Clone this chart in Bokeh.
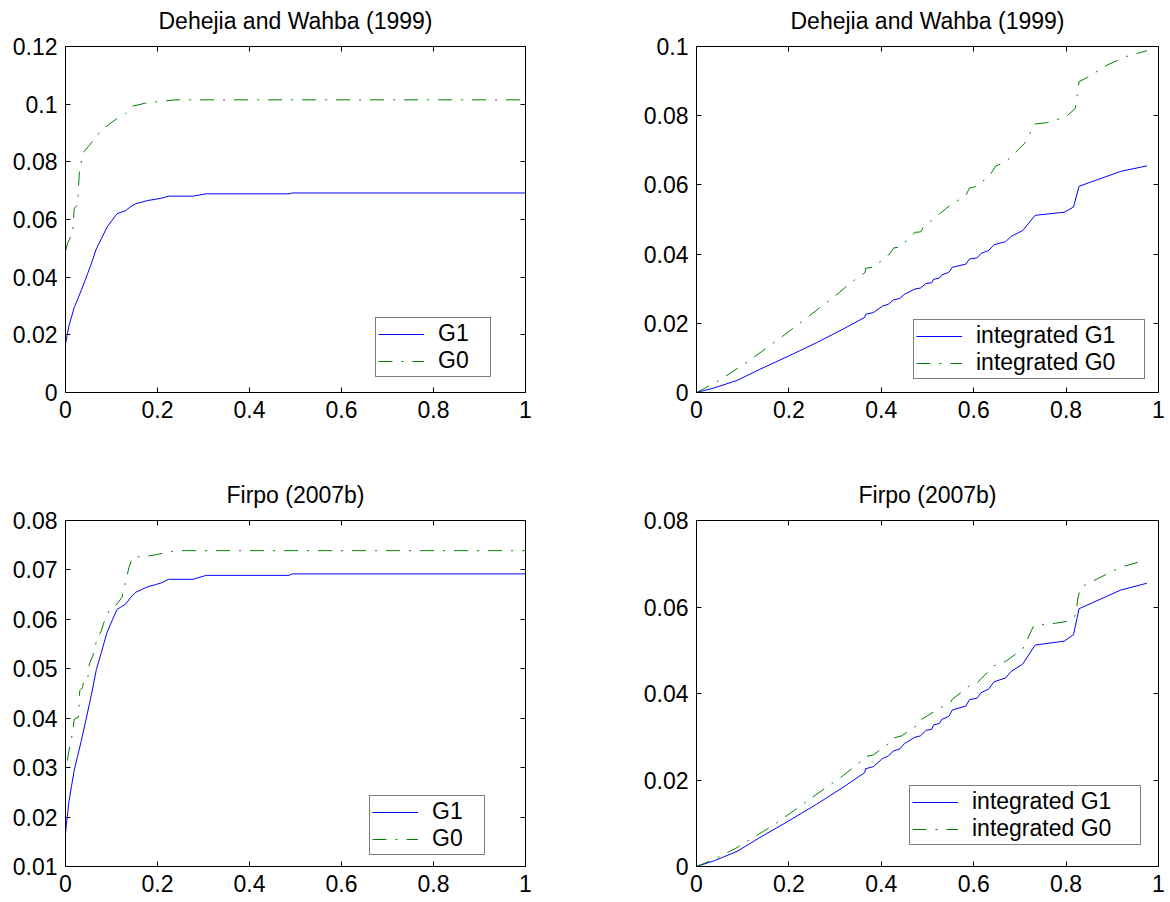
from bokeh.plotting import figure
from bokeh.models import Range1d, FixedTicker, LinearAxis, Legend, LegendItem
from bokeh.layouts import column, row
from bokeh.embed import file_html
from bokeh.resources import INLINE

FONT = "Liberation Sans"
FS = "23px"
BLUE = "#0000ff"
GREEN = "#008000"
DASHDOT = "14 9 2 9"

# ---------------- data ----------------
x_ticks = [0, 0.2, 0.4, 0.6, 0.8, 1]
x_tick_labels = ["0", "0.2", "0.4", "0.6", "0.8", "1"]

y_ticks_dw = [0, 0.02, 0.04, 0.06, 0.08, 0.1, 0.12]
y_labels_dw = ["0", "0.02", "0.04", "0.06", "0.08", "0.1", "0.12"]
y_ticks_dw_int = [0, 0.02, 0.04, 0.06, 0.08, 0.1]
y_labels_dw_int = ["0", "0.02", "0.04", "0.06", "0.08", "0.1"]
y_ticks_fi = [0.01, 0.02, 0.03, 0.04, 0.05, 0.06, 0.07, 0.08]
y_labels_fi = ["0.01", "0.02", "0.03", "0.04", "0.05", "0.06", "0.07", "0.08"]
y_ticks_fi_int = [0, 0.02, 0.04, 0.06, 0.08]
y_labels_fi_int = ["0", "0.02", "0.04", "0.06", "0.08"]

# G1 (treated) - same in both samples
g1_x = [0.0, 0.002, 0.0075, 0.013, 0.019, 0.026, 0.034, 0.045, 0.056, 0.067, 0.078,
        0.090, 0.101, 0.112, 0.122, 0.131, 0.142, 0.153, 0.165, 0.179, 0.195, 0.209,
        0.224, 0.277, 0.306, 0.486, 0.493, 1.0]
g1_y = [0.0167, 0.0185, 0.0231, 0.0262, 0.0295, 0.0322, 0.0353, 0.0399, 0.0446, 0.0498, 0.0533,
        0.0573, 0.0597, 0.0620, 0.0626, 0.0631, 0.0645, 0.0655, 0.0660, 0.0666, 0.0670, 0.0674,
        0.0681, 0.0681, 0.0689, 0.0689, 0.0692, 0.0692]

# G0, Dehejia and Wahba (1999)
g0_dw_x = [0.0, 0.0, 0.004, 0.011, 0.015, 0.017, 0.019, 0.023, 0.026, 0.030, 0.037, 0.049,
           0.064, 0.075, 0.097, 0.112, 0.131, 0.146, 0.172, 0.202, 0.239, 1.0]
g0_dw_y = [0.0376, 0.0488, 0.0515, 0.0540, 0.0544, 0.0592, 0.0640, 0.0645, 0.0649, 0.0759, 0.0829, 0.0852,
           0.0881, 0.0904, 0.0933, 0.0950, 0.0968, 0.0993, 0.1003, 0.1009, 0.1015, 0.1015]

# G0, Firpo (2007b)
g0_fi_x = [0.0, 0.0, 0.0075, 0.015, 0.019, 0.028, 0.031, 0.037, 0.041, 0.049, 0.052, 0.064,
           0.067, 0.078, 0.086, 0.097, 0.112, 0.123, 0.131, 0.138, 0.146, 0.172, 0.198, 0.239, 1.0]
g0_fi_y = [0.0246, 0.0294, 0.0334, 0.0368, 0.0398, 0.0402, 0.0456, 0.0462, 0.0483, 0.0484, 0.0510, 0.0537,
           0.0557, 0.0577, 0.0601, 0.0621, 0.0631, 0.0645, 0.0678, 0.0705, 0.0726, 0.0727, 0.0731, 0.0739, 0.0739]

# integrated G1 (same in both samples)
ig1_x = [0.0, 0.039, 0.088, 0.137, 0.199, 0.260, 0.317, 0.364, 0.366, 0.383, 0.403, 0.415, 0.426,
         0.440, 0.450, 0.473, 0.485, 0.497, 0.509, 0.513, 0.526, 0.531, 0.546, 0.554, 0.583, 0.591,
         0.607, 0.616, 0.632, 0.644, 0.669, 0.681, 0.706, 0.733, 0.796, 0.816, 0.828, 0.918, 0.975]
ig1_y = [0.0, 0.00135, 0.0035, 0.0067, 0.0105, 0.0144, 0.0183, 0.0217, 0.0226, 0.0231, 0.0250, 0.0255, 0.0267,
         0.0272, 0.0284, 0.0299, 0.0302, 0.0315, 0.0317, 0.0327, 0.0331, 0.0340, 0.0347, 0.0362, 0.0371, 0.0386,
         0.0389, 0.0402, 0.0410, 0.0427, 0.0436, 0.0451, 0.0468, 0.0512, 0.0521, 0.0536, 0.0596, 0.0639, 0.0655]

# integrated G0, Dehejia and Wahba (1999)
ig0_dw_x = [0.0, 0.047, 0.113, 0.178, 0.235, 0.309, 0.330, 0.365, 0.366, 0.383, 0.419, 0.427, 0.440,
            0.473, 0.485, 0.491, 0.526, 0.542, 0.583, 0.591, 0.607, 0.636, 0.648, 0.669, 0.710, 0.733,
            0.759, 0.800, 0.820, 0.828, 0.849, 0.890, 0.930, 0.975]
ig0_dw_y = [0.0, 0.0033, 0.0091, 0.0154, 0.0212, 0.0289, 0.0313, 0.0347, 0.0359, 0.0362, 0.0402, 0.0418, 0.0420,
            0.0463, 0.0464, 0.0478, 0.0516, 0.0534, 0.0570, 0.0591, 0.0596, 0.0630, 0.0655, 0.0666, 0.0720, 0.0776,
            0.0780, 0.0797, 0.0821, 0.0898, 0.0913, 0.0947, 0.0971, 0.0988]

# integrated G0, Firpo (2007b)
ig0_fi_x = [0.0, 0.039, 0.088, 0.170, 0.235, 0.317, 0.362, 0.366, 0.383, 0.424, 0.426, 0.444, 0.481,
            0.485, 0.530, 0.550, 0.554, 0.591, 0.607, 0.616, 0.644, 0.669, 0.706, 0.730, 0.767, 0.804,
            0.820, 0.826, 0.832, 0.890, 0.918, 0.975]
ig0_fi_y = [0.0, 0.0017, 0.0044, 0.0098, 0.0148, 0.0210, 0.0248, 0.0254, 0.0258, 0.0291, 0.0297, 0.0302, 0.0329,
            0.0339, 0.0368, 0.0380, 0.0387, 0.0418, 0.0424, 0.0434, 0.0464, 0.0474, 0.0503, 0.0557, 0.0561, 0.0567,
            0.0580, 0.0623, 0.0646, 0.0677, 0.0692, 0.0709]


def style_axis(ax, ticks, labels, show):
    ax.ticker = FixedTicker(ticks=ticks)
    ax.minor_tick_line_color = None
    ax.major_tick_in = 5
    ax.major_tick_out = 0
    ax.axis_line_color = "black"
    ax.axis_line_width = 1
    ax.major_tick_line_color = "black"
    ax.major_label_text_font = FONT
    if show:
        ax.major_label_overrides = {t: l for t, l in zip(ticks, labels)}
        ax.major_label_text_color = "black"
        ax.major_label_text_font_size = FS
        ax.major_label_standoff = 8
    else:
        # box-side axis: ticks only, no labels drawn
        ax.major_label_text_color = None
        ax.major_label_text_font_size = "1px"
        ax.major_label_standoff = 0


def spacer_axis(ticks, gap):
    # invisible axis that only reserves vertical room between frame and title
    ax = LinearAxis(ticker=FixedTicker(ticks=ticks))
    ax.major_tick_in = 0
    ax.major_tick_out = gap
    ax.major_tick_line_color = None
    ax.minor_tick_line_color = None
    ax.axis_line_color = None
    ax.major_label_text_color = None
    ax.major_label_text_font_size = "1px"
    ax.major_label_standoff = 0
    return ax


def panel(title, y0, y1, yt, yl, series, leg_loc, label_w,
          width, height, bl, br, bt, bb):
    p = figure(width=width, height=height, output_backend="svg", toolbar_location=None,
               x_range=Range1d(0, 1), y_range=Range1d(y0, y1),
               min_border_left=bl, min_border_right=br, min_border_top=bt, min_border_bottom=bb,
               x_axis_location=None, y_axis_location=None)
    p.grid.visible = False
    p.outline_line_color = "black"
    p.outline_line_width = 1
    p.background_fill_color = "white"
    p.border_fill_color = "white"

    bx = LinearAxis(); style_axis(bx, x_ticks, x_tick_labels, True)
    tx = LinearAxis(); style_axis(tx, x_ticks, x_tick_labels, False)
    ly = LinearAxis(); style_axis(ly, yt, yl, True)
    ry = LinearAxis(); style_axis(ry, yt, yl, False)
    p.add_layout(bx, "below")
    p.add_layout(tx, "above")
    p.add_layout(spacer_axis(x_ticks, 9), "above")
    p.add_layout(ly, "left")
    p.add_layout(ry, "right")

    p.title.text = title
    p.title.text_font = FONT
    p.title.text_font_size = FS
    p.title.text_font_style = "normal"
    p.title.text_color = "black"
    p.title.align = "center"
    p.title.standoff = 8

    items = []
    for (xs, ys, color, dash, label) in series:
        r = p.line(xs, ys, line_color=color, line_width=1, line_dash=dash)
        items.append(LegendItem(label=label, renderers=[r]))
    leg = Legend(items=items, location=leg_loc)
    leg.border_line_color = "black"
    leg.border_line_width = 1
    leg.background_fill_color = "white"
    leg.background_fill_alpha = 1
    leg.label_text_font = FONT
    leg.label_text_font_size = FS
    leg.label_text_color = "black"
    leg.padding = 2
    leg.spacing = 0
    leg.margin = 0
    leg.glyph_width = 46
    leg.glyph_height = 20
    leg.label_standoff = 14
    leg.label_height = 20
    leg.label_width = label_w
    p.add_layout(leg)
    return p


p1 = panel("Dehejia and Wahba (1999)", 0, 0.12, y_ticks_dw, y_labels_dw,
           [(g1_x, g1_y, BLUE, "solid", "G1"), (g0_dw_x, g0_dw_y, GREEN, DASHDOT, "G0")],
           (310, 15), 50, 565, 450, 65, 40, 46, 58)
p2 = panel("Dehejia and Wahba (1999)", 0, 0.1, y_ticks_dw_int, y_labels_dw_int,
           [(ig1_x, ig1_y, BLUE, "solid", "integrated G1"),
            (ig0_dw_x, ig0_dw_y, GREEN, DASHDOT, "integrated G0")],
           (217, 13), 166, 605, 450, 131, 12, 46, 58)
p3 = panel("Firpo (2007b)", 0.01, 0.08, y_ticks_fi, y_labels_fi,
           [(g1_x, g1_y, BLUE, "solid", "G1"), (g0_fi_x, g0_fi_y, GREEN, DASHDOT, "G0")],
           (304, 11), 50, 565, 452, 65, 40, 70, 36)
p4 = panel("Firpo (2007b)", 0, 0.08, y_ticks_fi_int, y_labels_fi_int,
           [(ig1_x, ig1_y, BLUE, "solid", "integrated G1"),
            (ig0_fi_x, ig0_fi_y, GREEN, DASHDOT, "integrated G0")],
           (213, 21), 166, 605, 452, 131, 12, 70, 36)

layout = column(row(p1, p2), row(p3, p4))
open("out.html", "w").write(file_html(layout, INLINE))
